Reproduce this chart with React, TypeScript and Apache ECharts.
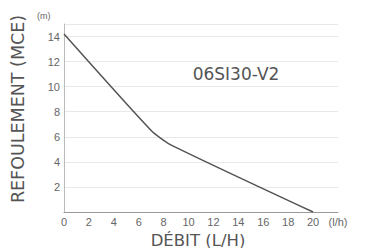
import React, { useEffect, useRef } from "react";
import * as echarts from "echarts";

const flowValues = [0, 7, 8.5, 20];
const headValues = [14.2, 6.5, 5.4, 0];
const model = "06SI30-V2";
const xTitle = "DÉBIT (L/H)";
const yTitle = "REFOULEMENT (MCE)";

export default function App() {
  const ref = useRef<HTMLDivElement>(null);
  useEffect(() => {
    const chart = echarts.init(ref.current!, null, { renderer: "svg" });
    chart.setOption({
      animation: false,
      backgroundColor: "#fff",
      grid: { left: 64, right: 36, top: 24, bottom: 36 },
      xAxis: {
        type: "value",
        min: 0,
        max: 22,
        interval: 2,
        axisLine: { show: true, lineStyle: { color: "#999", width: 1 } },
        axisTick: { show: false },
        splitLine: { show: false },
        axisLabel: {
          color: "#666",
          fontSize: 11,
          fontFamily: "Liberation Sans",
          margin: 4,
          formatter: (v: number) => (v === 22 ? "(l/h)" : String(v)),
        },
      },
      yAxis: {
        type: "value",
        min: 0,
        max: 15,
        interval: 2,
        axisLine: { show: true, lineStyle: { color: "#bbb", width: 1 } },
        axisTick: { show: false },
        splitLine: { show: true, lineStyle: { color: "#e8e8e8" } },
        axisLabel: {
          color: "#666",
          fontSize: 11,
          fontFamily: "Liberation Sans",
          margin: 4,
          showMaxLabel: false,
          formatter: (v: number) => (v === 0 ? "" : String(v)),
        },
      },
      series: [
        {
          type: "line",
          data: flowValues.map((x, i) => [x, headValues[i]]),
          smooth: 0.2,
          showSymbol: false,
          lineStyle: { color: "#555", width: 1.5 },
        },
      ],
      graphic: [
        {
          type: "text",
          left: 37,
          top: 11,
          style: { text: "(m)", fill: "#666", fontSize: 9, fontFamily: "Liberation Sans" },
        },
        {
          type: "text",
          x: 236,
          y: 74,
          style: {
            text: model,
            fill: "#555",
            fontSize: 17,
            fontFamily: "DejaVu Sans",
            align: "center",
            verticalAlign: "middle",
          },
        },
        {
          type: "text",
          x: 198,
          y: 240,
          style: {
            text: xTitle,
            fill: "#555",
            fontSize: 16.5,
            fontFamily: "DejaVu Sans",
            align: "center",
            verticalAlign: "middle",
          },
        },
        {
          type: "text",
          x: 18,
          y: 109,
          rotation: Math.PI / 2,
          style: {
            text: yTitle,
            fill: "#555",
            fontSize: 17.5,
            fontFamily: "DejaVu Sans",
            align: "center",
            verticalAlign: "middle",
          },
        },
      ],
    });
    return () => chart.dispose();
  }, []);
  return <div ref={ref} style={{ width: 374, height: 248, position: "absolute", left: 0, top: 0 }} />;
}
